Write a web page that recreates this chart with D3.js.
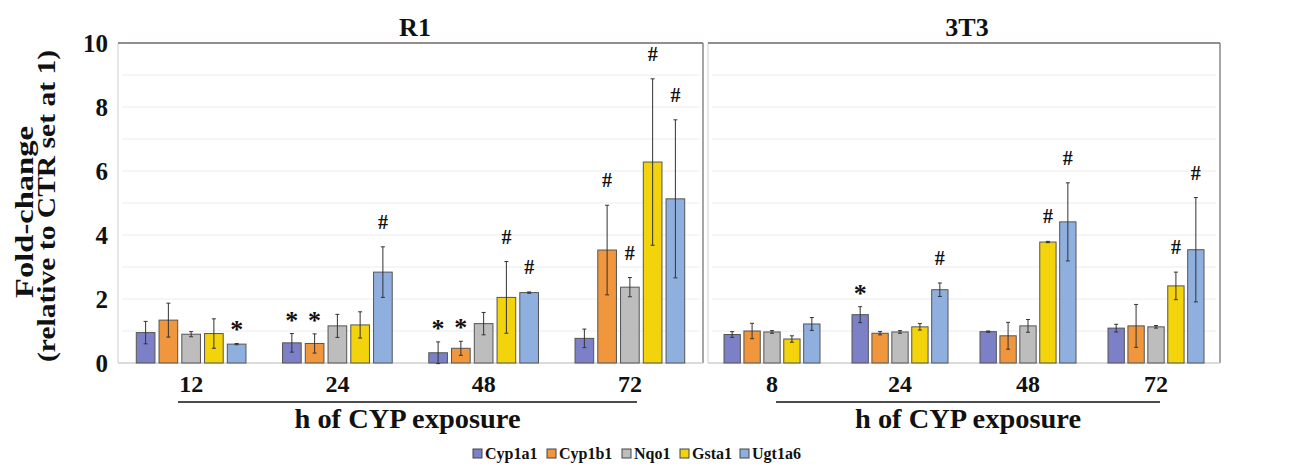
<!DOCTYPE html>
<html>
<head>
<meta charset="utf-8">
<script src="https://cdnjs.cloudflare.com/ajax/libs/d3/7.8.5/d3.min.js"></script>
</head>
<body style="margin:0">
<script>
const genes = ["Cyp1a1", "Cyp1b1", "Nqo1", "Gsta1", "Ugt1a6"];
const colors = ["#7c80c6", "#f0963c", "#bdbdbd", "#f2d30c", "#8fb0de"];
const yTicks = [0, 2, 4, 6, 8, 10];

// R1 cells
const r1Times = ["12", "24", "48", "72"];
const r1Means = [
  [0.95, 1.34, 0.90, 0.92, 0.59],
  [0.63, 0.61, 1.16, 1.19, 2.84],
  [0.32, 0.46, 1.23, 2.05, 2.20],
  [0.77, 3.53, 2.37, 6.28, 5.13]
];
const r1Errors = [
  [0.35, 0.53, 0.08, 0.46, 0.02],
  [0.29, 0.30, 0.36, 0.41, 0.79],
  [0.34, 0.22, 0.35, 1.12, 0.02],
  [0.29, 1.40, 0.30, 2.60, 2.47]
];
const r1Marks = [
  ["", "", "", "", "*"],
  ["*", "*", "", "", "#"],
  ["*", "*", "", "#", "#"],
  ["", "#", "#", "#", "#"]
];

// 3T3 cells
const t3Times = ["8", "24", "48", "72"];
const t3Means = [
  [0.89, 1.00, 0.97, 0.75, 1.22],
  [1.51, 0.93, 0.97, 1.13, 2.29],
  [0.98, 0.85, 1.16, 3.78, 4.41],
  [1.09, 1.16, 1.13, 2.41, 3.54]
];
const t3Errors = [
  [0.09, 0.24, 0.04, 0.10, 0.20],
  [0.25, 0.05, 0.04, 0.10, 0.21],
  [0.02, 0.42, 0.20, 0.02, 1.22],
  [0.12, 0.67, 0.04, 0.43, 1.63]
];
const t3Marks = [
  ["", "", "", "", ""],
  ["*", "", "", "", "#"],
  ["", "", "", "#", "#"],
  ["", "", "", "#", "#"]
];

const width = 1296, height = 471;
const plotTop = 43, plotBottom = 363;

const svg = d3.select("body").append("svg")
    .attr("width", width)
    .attr("height", height);

// serif bold text, the way the figure was typeset
function label(sel, size) {
    return sel
        .style("font-family", '"Liberation Serif", "Times New Roman", serif')
        .style("font-weight", "bold")
        .style("font-size", size + "px")
        .style("fill", "#111");
}

const y = d3.scaleLinear().domain([0, 10]).range([plotBottom, plotTop]);

function drawPanel(x0, x1, title, titleX, times, means, errors, marks, lineX0, lineX1) {
    const g = svg.append("g");
    const x = d3.scaleBand().domain(times).range([x0, x1]).paddingInner(0.25).paddingOuter(0.125);
    const xs = d3.scaleBand().domain(genes).range([0, x.bandwidth()]).paddingInner(0.18);

    // gridlines
    g.selectAll(".grid")
        .data(d3.range(1, 10))
        .enter().append("line")
        .attr("x1", x0 + 4).attr("x2", x1 - 4)
        .attr("y1", d => y(d)).attr("y2", d => y(d))
        .attr("stroke", "#ececec").attr("stroke-width", 1);

    // frame
    g.append("line").attr("x1", x0).attr("x2", x0).attr("y1", plotTop).attr("y2", plotBottom)
        .attr("stroke", "#cfcfcf");
    g.append("line").attr("x1", x1).attr("x2", x1).attr("y1", plotTop).attr("y2", plotBottom)
        .attr("stroke", "#7a7470").attr("stroke-width", 1.3);
    g.append("line").attr("x1", x0).attr("x2", x1).attr("y1", plotTop).attr("y2", plotTop)
        .attr("stroke", "#6f6964").attr("stroke-width", 1.5);
    g.append("line").attr("x1", x0).attr("x2", x1).attr("y1", plotBottom).attr("y2", plotBottom)
        .attr("stroke", "#cfcfcf").attr("stroke-width", 1.3);

    const rows = [];
    times.forEach((t, i) => {
        genes.forEach((gname, j) => {
            rows.push({ t: t, gene: gname, j: j, v: means[i][j], e: errors[i][j], m: marks[i][j] });
        });
    });

    const groups = g.selectAll(".bar")
        .data(rows)
        .enter().append("g")
        .attr("transform", d => `translate(${x(d.t) + xs(d.gene)},0)`);

    groups.append("rect")
        .attr("x", 0)
        .attr("y", d => y(d.v))
        .attr("width", xs.bandwidth())
        .attr("height", d => y(0) - y(d.v))
        .attr("fill", d => colors[d.j])
        .attr("stroke", "#555")
        .attr("stroke-width", 1);

    const cx = xs.bandwidth() / 2;
    groups.append("line")
        .attr("x1", cx).attr("x2", cx)
        .attr("y1", d => y(d.v - d.e)).attr("y2", d => y(d.v + d.e))
        .attr("stroke", "#333").attr("stroke-width", 1);
    groups.append("line")
        .attr("x1", cx - 2).attr("x2", cx + 2)
        .attr("y1", d => y(d.v + d.e)).attr("y2", d => y(d.v + d.e))
        .attr("stroke", "#333").attr("stroke-width", 1);
    groups.append("line")
        .attr("x1", cx - 2).attr("x2", cx + 2)
        .attr("y1", d => y(d.v - d.e)).attr("y2", d => y(d.v - d.e))
        .attr("stroke", "#333").attr("stroke-width", 1);

    // significance marks
    groups.filter(d => d.m === "*").append("text")
        .attr("x", cx)
        .attr("y", d => y(d.v + d.e) - 5)
        .attr("text-anchor", "middle")
        .call(label, 26)
        .text(d => d.m);
    groups.filter(d => d.m === "#").append("text")
        .attr("x", cx)
        .attr("y", d => y(d.v + d.e) - 18)
        .attr("text-anchor", "middle")
        .call(label, 20)
        .text(d => d.m);

    // category labels
    g.selectAll(".cat")
        .data(times)
        .enter().append("text")
        .attr("x", d => x(d) + x.bandwidth() / 2)
        .attr("y", 392)
        .attr("text-anchor", "middle")
        .call(label, 24)
        .text(d => d);

    g.append("line")
        .attr("x1", lineX0).attr("x2", lineX1)
        .attr("y1", 402).attr("y2", 402)
        .attr("stroke", "#111").attr("stroke-width", 1.5);

    g.append("text")
        .attr("x", (lineX0 + lineX1) / 2)
        .attr("y", 428)
        .attr("text-anchor", "middle")
        .attr("textLength", 226)
        .attr("lengthAdjust", "spacingAndGlyphs")
        .call(label, 27)
        .text("h of CYP exposure");

    g.append("text")
        .attr("x", titleX)
        .attr("y", 36)
        .attr("text-anchor", "middle")
        .call(label, 26)
        .text(title);
}

drawPanel(118, 703, "R1", 415, r1Times, r1Means, r1Errors, r1Marks, 178, 637);
drawPanel(708, 1220, "3T3", 967, t3Times, t3Means, t3Errors, t3Marks, 776, 1160);

// y axis tick labels
svg.selectAll(".ytick")
    .data(yTicks)
    .enter().append("text")
    .attr("x", 108)
    .attr("y", d => y(d) + 8.5)
    .attr("text-anchor", "end")
    .call(label, 25)
    .text(d => d);

// y axis title
svg.append("text")
    .attr("transform", "translate(33,212) rotate(-90)")
    .attr("text-anchor", "middle")
    .attr("textLength", 172)
    .attr("lengthAdjust", "spacingAndGlyphs")
    .call(label, 26)
    .text("Fold-change");
svg.append("text")
    .attr("transform", "translate(55,206) rotate(-90)")
    .attr("text-anchor", "middle")
    .attr("textLength", 312)
    .attr("lengthAdjust", "spacingAndGlyphs")
    .call(label, 26)
    .text("(relative to CTR set at 1)");

// legend
const legendX = [473, 547, 622, 680, 740];
const legend = svg.selectAll(".legend")
    .data(genes)
    .enter().append("g")
    .attr("transform", (d, i) => `translate(${legendX[i]},449)`);
legend.append("rect")
    .attr("width", 9).attr("height", 9)
    .attr("fill", (d, i) => colors[i])
    .attr("stroke", "#444").attr("stroke-width", 1);
legend.append("text")
    .attr("x", 12).attr("y", 10)
    .call(label, 16)
    .text(d => d);
</script>
</body>
</html>
